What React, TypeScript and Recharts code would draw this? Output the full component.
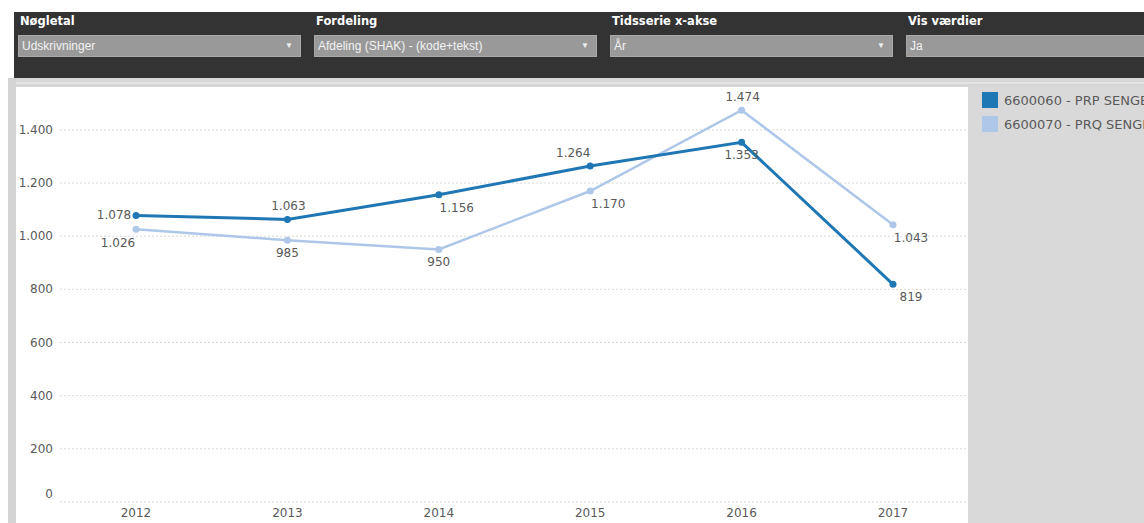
import { LineChart, Line, XAxis, YAxis, CartesianGrid, LabelList, Legend } from 'recharts';

// Udskrivninger pr. år for to afdelinger
const years = ['2012', '2013', '2014', '2015', '2016', '2017'];
const prpValues = [1078, 1063, 1156, 1264, 1353, 819];
const prqValues = [1026, 985, 950, 1170, 1474, 1043];
const yTicks = [0, 200, 400, 600, 800, 1000, 1200, 1400];
const seriesNames = ['6600060 - PRP SENGE', '6600070 - PRQ SENGE'];
const seriesColors = ['#1f77b4', '#aec7e8'];

// where each value label sits relative to its point
const prpLabelSpots = ['left', 'top', 'bottomRight', 'topLeft', 'bottom', 'bottomRight'];
const prqLabelSpots = ['bottomLeft', 'bottom', 'bottom', 'bottomRight', 'top', 'bottomRight'];

const SPOT_OFFSET: Record<string, [number, number]> = {
  left: [-22, 0],
  top: [1, -13],
  bottom: [0, 13],
  topLeft: [-17, -13],
  bottomRight: [18, 13],
  bottomLeft: [-18, 14],
};

const filters = [
  { label: 'Nøgletal', value: 'Udskrivninger', arrow: true },
  { label: 'Fordeling', value: 'Afdeling (SHAK) - (kode+tekst)', arrow: true },
  { label: 'Tidsserie x-akse', value: 'År', arrow: true },
  { label: 'Vis værdier', value: 'Ja', arrow: false },
];
const filterX = [18, 314, 610, 906];

const data = years.map((year, i) => ({ year, prp: prpValues[i], prq: prqValues[i] }));

const fmt = (v: number) => String(v).replace(/\B(?=(\d{3})+(?!\d))/g, '.');

const FONT = '"DejaVu Sans", Verdana, sans-serif';
const TEXT = '#595959';

function makeLabel(spots: string[]) {
  return (props: any) => {
    const { x, y, value, index } = props;
    const [dx, dy] = SPOT_OFFSET[spots[index]] ?? [0, -13];
    return (
      <text
        x={Number(x) + dx}
        y={Number(y) + dy}
        textAnchor="middle"
        dominantBaseline="central"
        fontSize={12}
        fontFamily={FONT}
        fill={TEXT}
      >
        {fmt(Number(value))}
      </text>
    );
  };
}

function YTick(props: any) {
  const { x, y, payload } = props;
  const shift = payload.value === 0 ? -8 : 0;
  return (
    <text x={x} y={y + shift} textAnchor="end" dominantBaseline="central" fontSize={12} fontFamily={FONT} fill={TEXT}>
      {fmt(payload.value)}
    </text>
  );
}

function LegendBox() {
  return (
    <div style={{ fontFamily: FONT, fontSize: 13, color: TEXT, whiteSpace: 'nowrap', overflow: 'hidden' }}>
      {seriesNames.map((name, i) => (
        <div key={name} style={{ display: 'flex', alignItems: 'center', height: 24 }}>
          <span style={{ width: 16, height: 16, background: seriesColors[i], marginRight: 6, flex: 'none' }} />
          <span>{name}</span>
        </div>
      ))}
    </div>
  );
}

export default function App() {
  return (
    <div style={{ position: 'fixed', left: 0, top: 0, width: 1144, height: 523, background: '#fff', overflow: 'hidden' }}>
      {/* filter bar */}
      <div style={{ position: 'absolute', left: 14, top: 12, width: 1130, height: 66, background: '#333' }} />
      {filters.map((f, i) => (
        <div key={f.label}>
          <div
            style={{
              position: 'absolute',
              left: filterX[i] + 2,
              top: 14,
              fontFamily: FONT,
              fontWeight: 'bold',
              fontSize: 11.5,
              color: '#fff',
            }}
          >
            {f.label}
          </div>
          <div
            style={{
              position: 'absolute',
              left: filterX[i],
              top: 35,
              width: i === 3 ? 260 : 283,
              height: 22,
              background: '#999',
              boxSizing: 'border-box',
              border: '1px solid #a8a8a8',
              fontFamily: 'Arial, "Liberation Sans", sans-serif',
              fontSize: 12,
              color: '#f2f2f2',
              lineHeight: '20px',
              paddingLeft: 3,
            }}
          >
            {f.value}
            {f.arrow && (
              <span style={{ position: 'absolute', right: 7, top: 0, fontSize: 8, color: '#f2f2f2' }}>▼</span>
            )}
          </div>
        </div>
      ))}
      {/* frames */}
      <div style={{ position: 'absolute', left: 8, top: 78, width: 1136, height: 9, background: '#d6d6d6' }} />
      <div style={{ position: 'absolute', left: 8, top: 82, width: 1136, height: 2, background: '#e4e4e4' }} />
      <div style={{ position: 'absolute', left: 8, top: 78, width: 8, height: 445, background: '#d4d4d4' }} />
      <div style={{ position: 'absolute', left: 968, top: 87, width: 176, height: 436, background: '#d9d9d9' }} />

      <div style={{ position: 'absolute', left: 16, top: 88 }}>
        <LineChart width={1128} height={435} data={data} margin={{ top: 2, right: 176, bottom: 0, left: 0 }}>
          <CartesianGrid
            vertical={false}
            horizontalValues={yTicks}
            syncWithTicks={false}
            stroke="#d8d8d8"
            strokeDasharray="2 2"
          />
          <XAxis
            dataKey="year"
            axisLine={false}
            tickLine={false}
            tickSize={0}
            tickMargin={6}
            height={21}
            padding={{ left: 76, right: 75 }}
            tick={{ fontSize: 12, fontFamily: FONT, fill: TEXT }}
          />
          <YAxis
            domain={[0, 1550]}
            ticks={yTicks}
            axisLine={false}
            tickLine={false}
            tickSize={0}
            tickMargin={7}
            width={44}
            tick={<YTick />}
          />
          <Legend
            layout="vertical"
            align="center"
            verticalAlign="middle"
            wrapperStyle={{ left: 966, top: 0, width: 162 }}
            content={<LegendBox />}
          />
          <Line
            dataKey="prq"
            name={seriesNames[1]}
            stroke={seriesColors[1]}
            strokeWidth={2.5}
            dot={{ r: 3.5, fill: seriesColors[1], stroke: seriesColors[1], strokeWidth: 0 }}
            isAnimationActive={false}
          >
            <LabelList dataKey="prq" content={makeLabel(prqLabelSpots)} />
          </Line>
          <Line
            dataKey="prp"
            name={seriesNames[0]}
            stroke={seriesColors[0]}
            strokeWidth={3}
            dot={{ r: 3.5, fill: seriesColors[0], stroke: seriesColors[0], strokeWidth: 0 }}
            isAnimationActive={false}
          >
            <LabelList dataKey="prp" content={makeLabel(prpLabelSpots)} />
          </Line>
        </LineChart>
      </div>
    </div>
  );
}
